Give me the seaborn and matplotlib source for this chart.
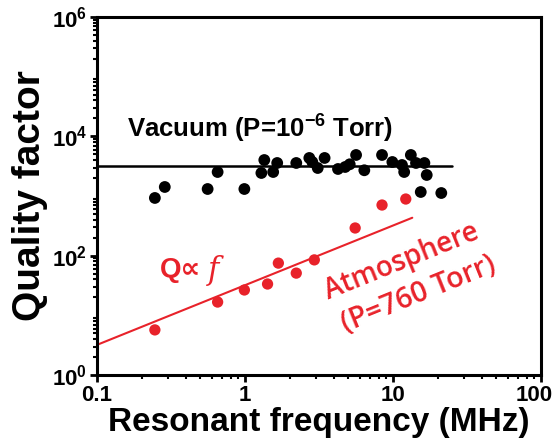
import matplotlib
matplotlib.use("Agg")
import matplotlib.pyplot as plt
import matplotlib.transforms as mtransforms
import seaborn as sns
import pandas as pd
from matplotlib.ticker import LogLocator, NullFormatter, FixedLocator, FixedFormatter

# vacuum data (MHz, Q)
vac_f = [0.246, 0.287, 0.559, 0.653, 0.99, 1.29, 1.35, 1.55, 1.65, 2.22, 2.72, 2.85,
         3.1, 3.45, 4.25, 4.75, 5.1, 5.63, 6.4, 8.43, 9.9, 11.5, 11.9, 13.2, 14.3,
         15.4, 16.3, 16.9, 21.2]
vac_q = [927, 1416, 1310, 2524, 1310, 2430, 4010, 2524, 3575, 3575, 4340, 3715,
         2945, 4340, 2836, 3063, 3400, 4870, 2700, 4870, 3715, 3310, 2524, 4870,
         3575, 1167, 3575, 2250, 1122]

# atmosphere data
atm_f = [0.246, 0.653, 0.99, 1.42, 1.68, 2.22, 2.94, 5.55, 8.43, 12.2]
atm_q = [5.7, 16.7, 26.6, 33.5, 75, 51, 85, 291, 706, 890]

# fits
vac_fit_f = [0.1, 25]
vac_fit_q = [3200, 3200]
atm_fit_f = [0.1, 13.5]
atm_fit_q = [3.2, 432]

xticks = [0.1, 1, 10, 100]
xticklabels = ["0.1", "1", "10", "100"]
yticks = [1, 1e2, 1e4, 1e6]
yticklabels = ["10$^\\mathregular{0}$", "10$^\\mathregular{2}$",
               "10$^\\mathregular{4}$", "10$^\\mathregular{6}$"]

red = "#e8222a"

sns.set_style("white")
plt.rcParams["font.family"] = ["Liberation Sans", "DejaVu Sans"]
plt.rcParams["text.color"] = "black"
plt.rcParams["axes.labelcolor"] = "black"
plt.rcParams["xtick.color"] = "black"
plt.rcParams["ytick.color"] = "black"

fig = plt.figure(figsize=(5.56, 4.45), dpi=100)
ax = fig.add_axes([0.1745, 0.1573, 0.7985, 0.8045])

vac = pd.DataFrame({"f": vac_f, "q": vac_q})
atm = pd.DataFrame({"f": atm_f, "q": atm_q})

sns.lineplot(x=vac_fit_f, y=vac_fit_q, color="black", lw=1.8, ax=ax)
sns.lineplot(x=atm_fit_f, y=atm_fit_q, color=red, lw=1.5, ax=ax)
sns.scatterplot(data=vac, x="f", y="q", color="black", s=72, edgecolor="none", ax=ax, zorder=3)
sns.scatterplot(data=atm, x="f", y="q", color=red, s=66, edgecolor="none", ax=ax, zorder=3)

ax.set_xscale("log")
ax.set_yscale("log")
ax.set_xlim(0.1, 100)
ax.set_ylim(1, 1e6)

ax.xaxis.set_major_locator(FixedLocator(xticks))
ax.xaxis.set_major_formatter(FixedFormatter(xticklabels))
ax.xaxis.set_minor_locator(LogLocator(base=10, subs=range(2, 10)))
ax.xaxis.set_minor_formatter(NullFormatter())
ax.yaxis.set_major_locator(FixedLocator(yticks))
ax.yaxis.set_major_formatter(FixedFormatter(yticklabels))
ax.yaxis.set_minor_locator(LogLocator(base=10, subs=range(2, 10), numticks=20))
ax.yaxis.set_minor_formatter(NullFormatter())

for s in ax.spines.values():
    s.set_color("black")
    s.set_linewidth(2.2)
ax.tick_params(which="major", direction="out", length=5, width=2, labelsize=16, pad=2,
               bottom=True, left=True)
ax.tick_params(which="minor", direction="out", length=3, width=1.5, bottom=True, left=True)
for lab in ax.get_xticklabels() + ax.get_yticklabels():
    lab.set_fontweight("bold")
# nudge the last x label so it stays inside the figure
last = ax.get_xticklabels()[-1]
last.set_transform(last.get_transform() + mtransforms.ScaledTranslation(-5 / 72, 0, fig.dpi_scale_trans))

ax.set_xlabel("Resonant frequency (MHz)", fontsize=24, fontweight="bold", labelpad=1)
ax.set_ylabel("Quality factor", fontsize=28, fontweight="bold", labelpad=3)

ax.text(0.16, 14000, "Vacuum (P=10$^{\\mathregular{-6}}$ Torr)", fontsize=18.5, fontweight="bold",
        ha="left", va="center")
ax.text(0.265, 57, "Q\u221d", fontsize=20, fontweight="bold", color=red, ha="left", va="center",
        family=["Liberation Sans", "DejaVu Sans"])
ax.text(0.56, 57, "f", fontsize=22, style="italic", color=red, ha="left", va="center",
        family="DejaVu Serif")
ax.text(11.5, 78, "Atmosphere", fontsize=20, color=red, ha="center", va="center",
        rotation=22, family="Open Sans", fontweight="semibold")
ax.text(14.8, 22, "(P=760 Torr)", fontsize=20.5, color=red, ha="center", va="center",
        rotation=22, family="Open Sans", fontweight="semibold")

fig.savefig("out.png", dpi=100)
